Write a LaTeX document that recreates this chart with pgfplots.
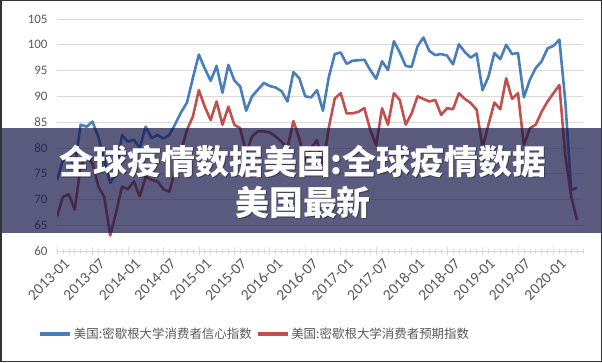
\documentclass[border=0pt]{standalone}
\usepackage{fontspec}
\setmainfont{Carlito}
\newfontfamily\cjk{Noto Sans CJK SC}
\usepackage{pgfplots}
\pgfplotsset{compat=1.18}
\definecolor{sblue}{HTML}{4A7EBB}
\definecolor{sred}{HTML}{C0504D}
\definecolor{lbl}{HTML}{595959}
\definecolor{grd}{HTML}{D9D9D9}
\definecolor{band}{RGB}{22,22,72}
\begin{document}
\begin{tikzpicture}[x=1bp,y=1bp]
\path[use as bounding box] (0,0) rectangle (602,362);
\begin{axis}[
 at={(57bp,111bp)}, anchor=south west, scale only axis,
 width=526bp, height=232bp,
 xmin=0, xmax=89, ymin=60, ymax=105,
 ytick={60,65,...,105},
 xtick={0,6,...,84},
 xticklabels={2013-01,2013-07,2014-01,2014-07,2015-01,2015-07,2016-01,2016-07,2017-01,2017-07,2018-01,2018-07,2019-01,2019-07,2020-01},
 minor xtick={0,...,89},
 ymajorgrids, grid style={grd, line width=0.75bp},
 axis line style={draw=none},
 xtick pos=lower, ytick pos=left,
 ytick style={draw=none},
 xtick style={grd, line width=0.6bp}, tick align=center,
 major tick length=8bp, minor tick length=5bp,
 ticklabel style={font=\fontsize{13}{15}\selectfont, text=lbl},
 yticklabel style={xshift=-2bp},
 xticklabel style={font=\fontsize{15.5}{17}\selectfont, rotate=45, anchor=north east, inner sep=0bp, xshift=3bp, yshift=-6bp},
 /pgf/number format/assume math mode=true,
 legend columns=2,
 legend style={at={(0.376,-0.358)}, anchor=center, draw=none, fill=none,
   font=\cjk\fontsize{12.5}{14}\selectfont, text=lbl,
   /tikz/every even column/.append style={column sep=2bp}},
 legend image code/.code={\draw[#1, line width=3.5bp] (0bp,0bp) -- (30bp,0bp);},
]
\addplot[sblue, line width=2.6bp, line join=round] coordinates {
(0,73.8)(1,77.6)(2,78.6)(3,76.4)(4,84.5)(5,84.1)(6,85.1)(7,82.1)(8,77.5)(9,73.2)(10,75.1)(11,82.5)
(12,81.2)(13,81.6)(14,80.0)(15,84.1)(16,81.9)(17,82.5)(18,81.8)(19,82.5)(20,84.6)(21,86.9)(22,88.8)(23,93.6)
(24,98.1)(25,95.4)(26,93.0)(27,95.9)(28,90.7)(29,96.1)(30,93.1)(31,91.9)(32,87.2)(33,90.0)(34,91.3)(35,92.6)
(36,92.0)(37,91.7)(38,91.0)(39,89.0)(40,94.7)(41,93.5)(42,90.0)(43,89.8)(44,91.2)(45,87.2)(46,93.8)(47,98.2)
(48,98.5)(49,96.3)(50,96.9)(51,97.0)(52,97.1)(53,95.1)(54,93.4)(55,96.8)(56,95.1)(57,100.7)(58,98.5)(59,95.9)
(60,95.7)(61,99.7)(62,101.4)(63,98.8)(64,98.0)(65,98.2)(66,97.9)(67,96.2)(68,100.1)(69,98.6)(70,97.5)(71,98.3)
(72,91.2)(73,93.8)(74,98.4)(75,97.2)(76,100.0)(77,98.2)(78,98.4)(79,89.8)(80,93.2)(81,95.5)(82,96.8)(83,99.3)
(84,99.8)(85,101.0)(86,89.1)(87,71.8)(88,72.3)};
\addlegendentry{美国:密歇根大学消费者信心指数}
\addplot[sred, line width=2.6bp, line join=round] coordinates {
(0,66.7)(1,70.5)(2,71.0)(3,68.0)(4,76.5)(5,78.3)(6,77.0)(7,72.5)(8,70.5)(9,63.0)(10,67.5)(11,72.5)
(12,72.0)(13,73.5)(14,70.6)(15,74.4)(16,73.8)(17,73.5)(18,72.0)(19,71.5)(20,75.7)(21,79.5)(22,83.5)(23,86.1)
(24,91.2)(25,88.0)(26,85.4)(27,89.0)(28,84.5)(29,88.0)(30,84.5)(31,83.8)(32,79.0)(33,82.2)(34,83.2)(35,83.2)
(36,83.0)(37,82.2)(38,81.2)(39,80.0)(40,85.2)(41,81.8)(42,77.5)(43,80.0)(44,81.5)(45,76.5)(46,84.0)(47,89.6)
(48,90.6)(49,86.7)(50,86.7)(51,87.0)(52,87.7)(53,83.5)(54,80.5)(55,87.7)(56,84.5)(57,90.6)(58,89.3)(59,84.5)
(60,86.7)(61,90.0)(62,89.5)(63,89.0)(64,89.3)(65,86.4)(66,87.7)(67,87.5)(68,90.6)(69,89.5)(70,88.7)(71,87.4)
(72,80.0)(73,84.5)(74,88.8)(75,87.5)(76,93.5)(77,89.5)(78,90.6)(79,80.5)(80,83.8)(81,84.5)(82,87.0)(83,89.0)
(84,90.6)(85,92.2)(86,78.5)(87,70.6)(88,66.0)};
\addlegendentry{美国:密歇根大学消费者预期指数}
\end{axis}
\fill[band, opacity=0.7] (0,129) rectangle (602,234);
\node[text=black, opacity=0.35, font=\cjk\bfseries\fontsize{34}{41}\selectfont, align=center] at (304,179) {全球疫情数据美国:全球疫情数据\\美国最新};
\node[text=white, font=\cjk\bfseries\fontsize{34}{41}\selectfont, align=center] at (303,180) {全球疫情数据美国:全球疫情数据\\美国最新};
\draw[black!80, line width=1.5bp] (0.75,0.75) rectangle (601.25,361.25);
\end{tikzpicture}
\end{document}
